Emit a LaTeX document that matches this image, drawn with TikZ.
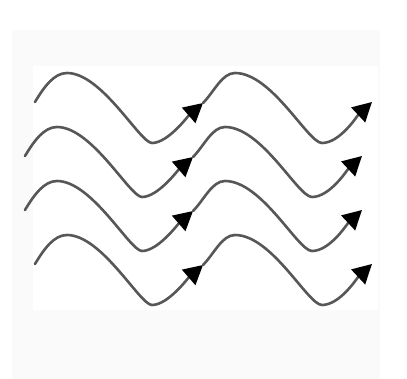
\documentclass[tikz,border=0pt]{standalone}
\usetikzlibrary{arrows.meta}
\tikzset{
  wave/.style={draw=black!66, line width=2.6pt, line cap=round,
    -{Triangle[length=19pt,width=20pt,black]}},
}
\begin{document}
\begin{tikzpicture}[x=1pt,y=-1pt]
\useasboundingbox (0,0) rectangle (407,379);
\fill[black!2] (12,30) rectangle (380,379);
\fill[white] (33,66) rectangle (378,310);
\foreach \dx/\dy [count=\i] in {0/0, -10/54, -10/108, 0/162}{
  \begin{scope}[shift={(\dx,\dy)}]
    \coordinate (s\i) at (35,102);
    \coordinate (pa\i) at (67,73);
    \coordinate (ta\i) at (152,143);
    \coordinate (m\i) at (203,103);
    \coordinate (pb\i) at (235,73);
    \coordinate (tb\i) at (322,143);
    \coordinate (e\i) at (372,102);
    \path[wave] (s\i) .. controls (44,87) and (54,73) .. (pa\i)
      .. controls (102,73) and (140,143) .. (ta\i)
      .. controls (168,143) and (188,116) .. (m\i);
    \path[wave] (m\i) .. controls (214,92) and (222,73) .. (pb\i)
      .. controls (272,73) and (308,143) .. (tb\i)
      .. controls (340,143) and (357,116) .. (e\i);
  \end{scope}
}
\end{tikzpicture}
\end{document}
